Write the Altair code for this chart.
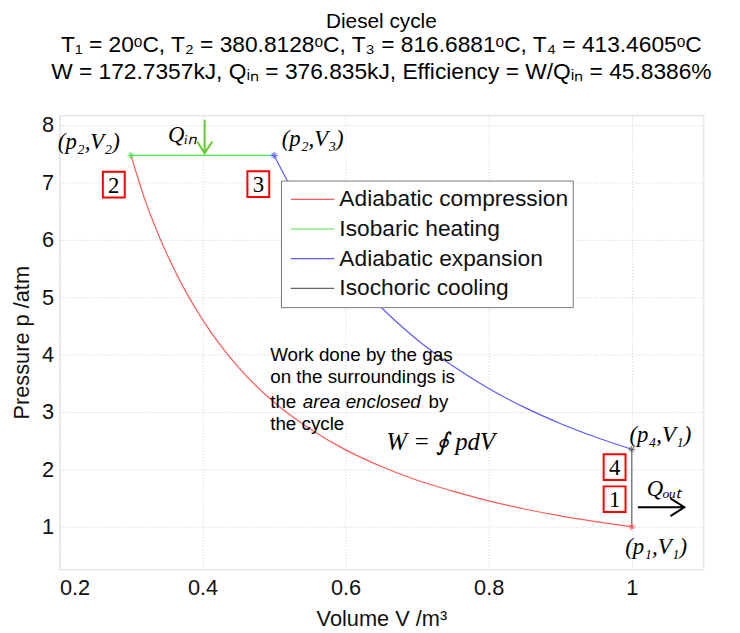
import altair as alt
import pandas as pd

# ---- data ----
processes = ["Adiabatic compression", "Isobaric heating", "Adiabatic expansion", "Isochoric cooling"]
proc_colors = ["#ff5a5a", "#4fe24f", "#5a5aff", "#666666"]

comp_V = [1.0, 0.95, 0.9, 0.85, 0.8, 0.75, 0.7, 0.65, 0.6, 0.55, 0.5, 0.45, 0.4, 0.37, 0.34, 0.32, 0.3]
comp_p = [1.0, 1.09, 1.19, 1.31, 1.45, 1.62, 1.81, 2.05, 2.34, 2.71, 3.17, 3.78, 4.61, 5.25, 6.04, 6.68, 7.47]
heat_V = [0.3, 0.5]
heat_p = [7.47, 7.47]
exp_V = [0.5, 0.52, 0.55, 0.575, 0.6, 0.65, 0.7, 0.75, 0.8, 0.85, 0.9, 0.95, 1.0]
exp_p = [7.47, 7.00, 6.37, 5.92, 5.51, 4.82, 4.26, 3.80, 3.41, 3.08, 2.80, 2.56, 2.35]
cool_V = [1.0, 1.0]
cool_p = [2.35, 1.0]

vert_V = [1.0, 0.3, 0.5, 1.0]
vert_p = [1.0, 7.47, 7.47, 2.35]
vert_proc = processes

pt_text = ["(p₂,V₂)", "(p₂,V₃)", "(p₄,V₁)", "(p₁,V₁)"]
pt_V = [0.241, 0.554, 1.040, 1.034]
pt_p = [7.70, 7.75, 2.60, 0.65]

box_num = ["2", "3", "4", "1"]
box_V = [0.276, 0.478, 0.976, 0.976]
box_p = [6.96, 6.97, 2.04, 1.48]

q_text = ["Qᵢₙ", "Qₒᵤₜ"]
q_V = [0.372, 1.045]
q_p = [7.82, 1.66]

note_text = ["Work done by the gas", "on the surroundings is", "the", "by", "the cycle"]
note_V = [0.4946, 0.4946, 0.4946, 0.7159, 0.4946]
note_p = [3.995, 3.60, 3.17, 3.17, 2.79]
note_it_text = ["area enclosed"]
note_it_V = [0.5402]
note_it_p = [3.17]

formula_text = ["W = ∮ pdV"]
formula_V = [0.733]
formula_p = [2.48]

arrow_V = [0.403, 1.041]
arrow_p = [7.80, 1.34]
arrow_dir = ["down", "right"]

title_main = "Diesel cycle"
title_sub = [
    "T₁ = 20ᵒC, T₂ = 380.8128ᵒC, T₃ = 816.6881ᵒC, T₄ = 413.4605ᵒC",
    "W = 172.7357kJ, Qᵢₙ = 376.835kJ, Efficiency = W/Qᵢₙ = 45.8386%",
]

# ---- tables ----
rows = []
for proc, Vs, ps in zip(processes, [comp_V, heat_V, exp_V, cool_V], [comp_p, heat_p, exp_p, cool_p]):
    for v, p in zip(Vs, ps):
        rows.append({"V": v, "p": p, "process": proc})
df_lines = pd.DataFrame(rows)
df_curves = df_lines[df_lines.process.isin([processes[0], processes[2]])]
df_straight = df_lines[df_lines.process.isin([processes[1], processes[3]])]
df_vert = pd.DataFrame({"V": vert_V, "p": vert_p, "process": vert_proc})
df_pt = pd.DataFrame({"V": pt_V, "p": pt_p, "t": pt_text})
df_box = pd.DataFrame({"V": box_V, "p": box_p, "t": box_num})
df_q = pd.DataFrame({"V": q_V, "p": q_p, "t": q_text})
df_note = pd.DataFrame({"V": note_V, "p": note_p, "t": note_text})
df_note_it = pd.DataFrame({"V": note_it_V, "p": note_it_p, "t": note_it_text})
df_formula = pd.DataFrame({"V": formula_V, "p": formula_p, "t": formula_text})
df_arrow = pd.DataFrame({"V": arrow_V, "p": arrow_p, "d": arrow_dir})

xscale = alt.Scale(domain=[0.2, 1.1], nice=False, zero=False)
yscale = alt.Scale(domain=[0.26, 8.17], nice=False, zero=False)
color = alt.Color(
    "process:N",
    scale=alt.Scale(domain=processes, range=proc_colors),
    sort=processes,
    legend=alt.Legend(
        orient="none", legendX=224, legendY=66, title=None,
        symbolType="stroke", symbolSize=1936, symbolStrokeWidth=1.2,
        labelFont="Liberation Sans", labelFontSize=23, labelColor="#111",
        fillColor="white", strokeColor="#777", padding=4, symbolOffset=5,
        clipHeight=30, rowPadding=0, labelOffset=4, labelLimit=400,
    ),
)
X = alt.X("V:Q", scale=xscale, axis=alt.Axis(
    values=[0.2, 0.4, 0.6, 0.8, 1.0], format="~g", title="Volume V /m³",
    labelFontSize=22, titleFontSize=22, labelFont="Liberation Sans", titleFont="Liberation Sans",
    labelColor="#111", titleColor="#111", titleFontWeight="normal", ticks=False,
    labelPadding=9, titlePadding=10, domain=False,
    grid=True, gridColor="#cfcfcf", gridDash=[1, 2], gridWidth=1,
))
Y = alt.Y("p:Q", scale=yscale, axis=alt.Axis(
    values=[1, 2, 3, 4, 5, 6, 7, 8], format="d", title="Pressure p /atm",
    labelFontSize=22, titleFontSize=22, labelFont="Liberation Sans", titleFont="Liberation Sans",
    labelColor="#111", titleColor="#111", titleFontWeight="normal", ticks=False,
    labelPadding=6, titlePadding=8, domain=False,
    grid=True, gridColor="#cfcfcf", gridDash=[1, 2], gridWidth=1,
))

curves = alt.Chart(df_curves).mark_line(strokeWidth=1.2, interpolate="monotone").encode(
    x=X, y=Y, color=color)
straight = alt.Chart(df_straight).mark_line(strokeWidth=1.2).encode(
    x=X, y=Y, color=color, order=alt.Order("p:Q"))

star_path = "M-1,0L1,0M0,-1L0,1M-0.7,-0.7L0.7,0.7M-0.7,0.7L0.7,-0.7"
verts = alt.Chart(df_vert).mark_point(shape=star_path, size=50, strokeWidth=1, opacity=1).encode(
    x="V:Q", y="p:Q",
    stroke=alt.Stroke("process:N", scale=alt.Scale(domain=processes, range=proc_colors), legend=None))

pt_labels = alt.Chart(df_pt).mark_text(
    font="Liberation Serif", fontSize=23, fontStyle="italic", color="black").encode(
    x="V:Q", y="p:Q", text="t:N")

boxes = alt.Chart(df_box).mark_point(
    shape="M-0.85,-1H0.85V1H-0.85Z", size=676, filled=True, fill="white",
    stroke="red", strokeWidth=2, opacity=1).encode(x="V:Q", y="p:Q")
box_txt = alt.Chart(df_box).mark_text(
    font="Liberation Serif", fontSize=23, color="black", dy=1).encode(
    x="V:Q", y="p:Q", text="t:N")

q_labels = alt.Chart(df_q).mark_text(
    font="Liberation Serif", fontSize=23, fontStyle="italic", color="black").encode(
    x="V:Q", y="p:Q", text="t:N")

notes = alt.Chart(df_note).mark_text(
    font="Liberation Sans", fontSize=19, align="left", color="black").encode(
    x="V:Q", y="p:Q", text="t:N")
notes_it = alt.Chart(df_note_it).mark_text(
    font="Liberation Sans", fontSize=19, fontStyle="italic", align="left", color="black").encode(
    x="V:Q", y="p:Q", text="t:N")
formula = alt.Chart(df_formula).mark_text(
    font="Liberation Serif", fontSize=25, fontStyle="italic", color="black").encode(
    x="V:Q", y="p:Q", text="t:N")

arrow_down = alt.Chart(df_arrow[df_arrow.d == "down"]).mark_point(
    shape="M0,-1L0,1M-0.45,0.3L0,1L0.45,0.3", size=1156, filled=False,
    strokeWidth=2, color="#66cc33", opacity=1).encode(x="V:Q", y="p:Q")
arrow_right = alt.Chart(df_arrow[df_arrow.d == "right"]).mark_point(
    shape="M-1,0L1,0M0.4,-0.38L1,0L0.4,0.38", size=2209, filled=False,
    strokeWidth=2, color="black", opacity=1).encode(x="V:Q", y="p:Q")

chart = alt.layer(
    curves, straight, verts, boxes, box_txt, pt_labels, q_labels,
    notes, notes_it, formula, arrow_down, arrow_right,
).properties(
    width=651, height=459,
    autosize=alt.AutoSizeParams(type="none"),
    padding={"left": 52, "top": 105, "right": 29, "bottom": 60},
    title=alt.Title(
        text=title_main, subtitle=title_sub, anchor="middle",
        font="Liberation Sans", fontSize=21, fontWeight="normal", color="black",
        subtitleFont="Liberation Sans", subtitleFontSize=23, subtitleColor="black",
        subtitleLineHeight=27, subtitlePadding=2, offset=31,
    ),
).configure_view(stroke="#888", strokeWidth=1.2).configure(background="white")

chart.save("out.html", embed_options={"renderer": "svg", "actions": False})
